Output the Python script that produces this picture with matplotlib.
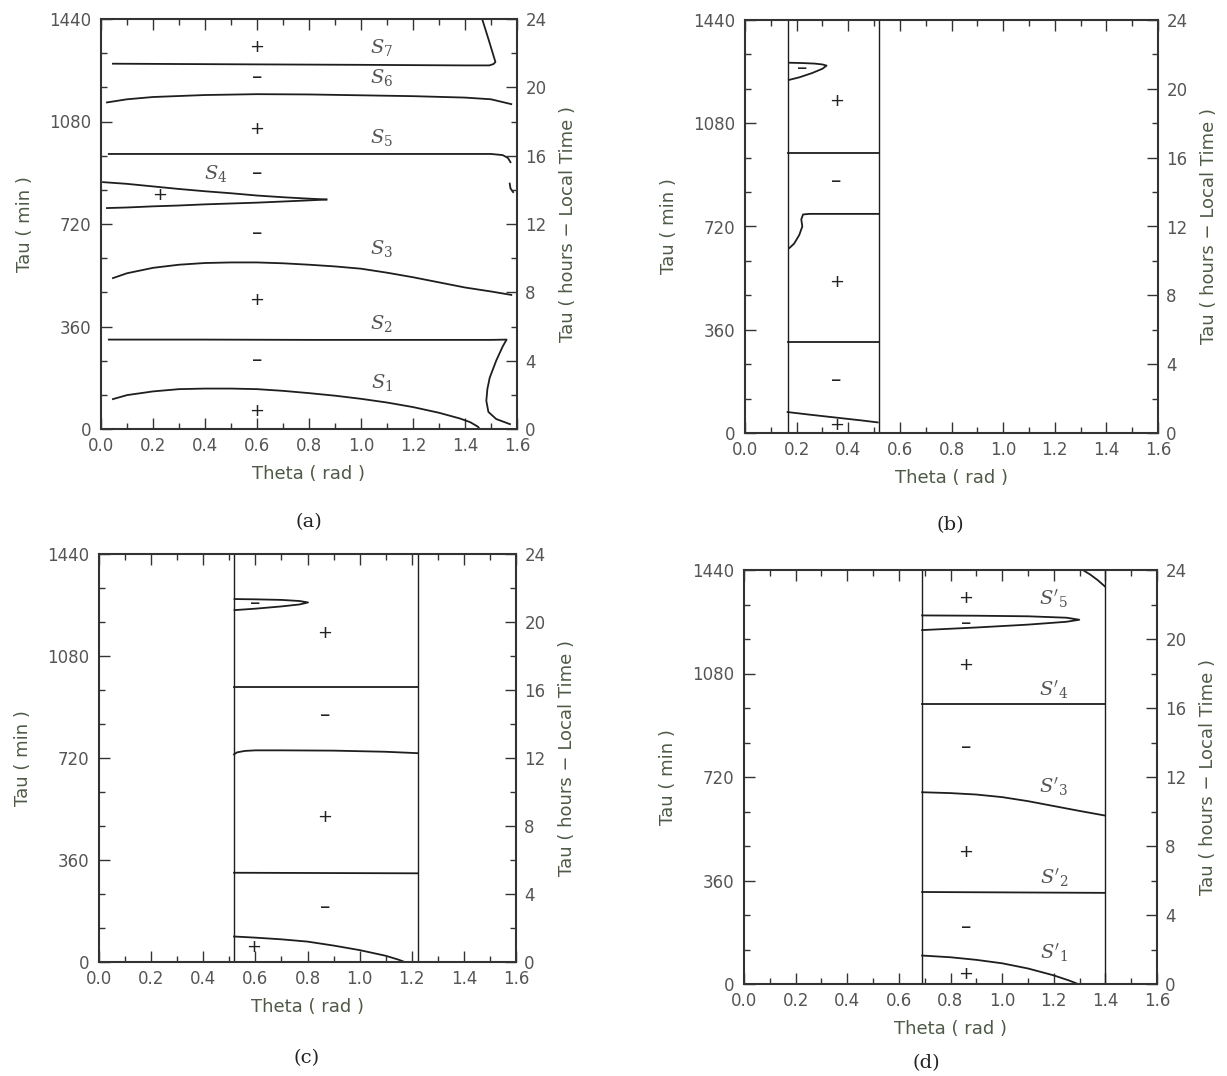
import numpy as np
import matplotlib
matplotlib.use("Agg")
import matplotlib.pyplot as plt
from matplotlib.ticker import MultipleLocator

plt.rcParams["mathtext.fontset"] = "dejavuserif"

TXT = "#4e5a46"
LN = "#1e1e1e"
W, H = 1227, 1076

# ── panel (a) curves (theta rad, tau min) ─────────────────────────
a_s1_x = [0.046, 0.1, 0.2, 0.3, 0.4, 0.5, 0.6, 0.7, 0.8, 0.9, 1.0, 1.1, 1.2, 1.3, 1.38, 1.42, 1.45, 1.456]
a_s1_y = [105, 119, 132, 140, 142, 142, 140, 134, 126, 117, 106, 93, 77, 57, 37, 24, 8, 0]
a_s2_x = [0.03, 0.4, 0.8, 1.2, 1.5, 1.56, 1.545, 1.52, 1.495, 1.486, 1.482, 1.49, 1.52, 1.573]
a_s2_y = [314, 314, 313, 313, 313, 314, 290, 240, 180, 140, 99, 60, 35, 17]
a_s3_x = [0.046, 0.1, 0.2, 0.3, 0.4, 0.5, 0.6, 0.7, 0.8, 0.9, 1.0, 1.1, 1.2, 1.3, 1.4, 1.5, 1.578]
a_s3_y = [530, 547, 566, 577, 583, 585, 585, 582, 577, 571, 563, 549, 533, 515, 497, 483, 471]
a_s4u_x = [0.008, 0.1, 0.2, 0.3, 0.4, 0.5, 0.6, 0.7, 0.8, 0.867]
a_s4u_y = [867, 861, 852, 843, 835, 828, 820, 814, 809, 806]
a_s4l_x = [0.023, 0.1, 0.2, 0.3, 0.4, 0.5, 0.6, 0.7, 0.8, 0.867]
a_s4l_y = [776, 778, 782, 785, 789, 792, 795, 799, 803, 806]
a_s5_x = [0.03, 0.5, 1.0, 1.5, 1.545, 1.565, 1.575]
a_s5_y = [966, 966, 966, 966, 962, 952, 937]
a_s5b_x = [1.572, 1.575, 1.585]
a_s5b_y = [862, 845, 832]
a_s6_x = [0.023, 0.1, 0.2, 0.4, 0.6, 0.8, 1.0, 1.2, 1.4, 1.5, 1.578]
a_s6_y = [1147, 1158, 1166, 1173, 1176, 1175, 1172, 1169, 1164, 1158, 1141]
a_s7_x = [0.046, 0.5, 1.0, 1.4, 1.494, 1.51, 1.517, 1.49, 1.466]
a_s7_y = [1283, 1281, 1279, 1277, 1277, 1282, 1289, 1370, 1440]

a_sign_x = [0.6, 0.6, 0.6, 0.6, 0.225, 0.6, 0.6, 0.6, 0.6]
a_sign_y = [1341, 1237, 1054, 899, 821, 690, 454, 244, 62]
a_sign = ["+", "–", "+", "–", "+", "–", "+", "–", "+"]
a_name_x = [1.08, 1.08, 1.08, 0.44, 1.08, 1.08, 1.08]
a_name_y = [1339, 1234, 1024, 896, 634, 372, 163]
a_name = ["$S_7$", "$S_6$", "$S_5$", "$S_4$", "$S_3$", "$S_2$", "$S_1$"]

# ── panel (b) ─────────────────────────────────────────────────────
b_vlines = [0.165, 0.518]
b_c1_x = [0.165, 0.25, 0.35, 0.45, 0.514]
b_c1_y = [73, 64, 54, 44, 37]
b_c2_x = [0.165, 0.518]
b_c2_y = [319, 319]
b_c3_x = [0.172, 0.19, 0.21, 0.222, 0.218, 0.225, 0.25, 0.35, 0.518]
b_c3_y = [645, 660, 690, 720, 745, 762, 764, 764, 764]
b_c4_x = [0.165, 0.518]
b_c4_y = [976, 976]
b_w_x = [0.17, 0.22, 0.27, 0.3, 0.316, 0.3, 0.26, 0.21, 0.17]
b_w_y = [1291, 1290, 1288, 1285, 1281, 1270, 1255, 1240, 1231]
b_sign_x = [0.222, 0.354, 0.354, 0.354, 0.354, 0.354]
b_sign_y = [1272, 1159, 879, 525, 186, 29]
b_sign = ["–", "+", "–", "+", "–", "+"]

# ── panel (c) ─────────────────────────────────────────────────────
c_vlines = [0.518, 1.224]
c_c1_x = [0.518, 0.6, 0.7, 0.8, 0.9, 1.0, 1.1, 1.15, 1.173]
c_c1_y = [90, 86, 80, 72, 58, 42, 22, 8, 0]
c_c2_x = [0.518, 1.224]
c_c2_y = [315, 313]
c_c3_x = [0.518, 0.53, 0.56, 0.6, 0.7, 0.9, 1.1, 1.224]
c_c3_y = [733, 740, 745, 747, 747, 746, 742, 737]
c_c4_x = [0.518, 1.224]
c_c4_y = [972, 972]
c_w_x = [0.52, 0.6, 0.7, 0.77, 0.802, 0.77, 0.7, 0.6, 0.52]
c_w_y = [1281, 1280, 1278, 1274, 1269, 1262, 1255, 1247, 1242]
c_sign_x = [0.6, 0.867, 0.867, 0.867, 0.867, 0.595]
c_sign_y = [1267, 1161, 873, 510, 195, 52]
c_sign = ["–", "+", "–", "+", "–", "+"]

# ── panel (d) ─────────────────────────────────────────────────────
d_vlines = [0.69, 1.398]
d_c1_x = [0.69, 0.8, 0.9, 1.0, 1.1, 1.2, 1.26, 1.294]
d_c1_y = [99, 93, 84, 72, 54, 30, 12, 0]
d_c2_x = [0.69, 1.398]
d_c2_y = [320, 317]
d_c3_x = [0.69, 0.8, 0.9, 1.0, 1.1, 1.2, 1.3, 1.398]
d_c3_y = [667, 664, 659, 650, 636, 619, 602, 586]
d_c4_x = [0.69, 1.398]
d_c4_y = [974, 974]
d_w_x = [0.69, 0.9, 1.1, 1.25, 1.299, 1.25, 1.1, 0.9, 0.69]
d_w_y = [1282, 1281, 1279, 1274, 1267, 1260, 1250, 1240, 1231]
d_top_x = [1.316, 1.34, 1.37, 1.398]
d_top_y = [1438, 1425, 1405, 1383]
d_sign_x = [0.86, 0.86, 0.86, 0.86, 0.86, 0.86, 0.86]
d_sign_y = [1344, 1255, 1108, 825, 460, 197, 36]
d_sign = ["+", "–", "+", "–", "+", "–", "+"]
d_name_x = [1.2, 1.2, 1.2, 1.2, 1.2]
d_name_y = [1338, 1022, 687, 370, 108]
d_name = ["$S'_5$", "$S'_4$", "$S'_3$", "$S'_2$", "$S'_1$"]


def setup(ax):
    ax.set_xlim(0, 1.6)
    ax.set_ylim(0, 1440)
    ax.xaxis.set_minor_locator(MultipleLocator(0.1))
    ax.yaxis.set_major_locator(MultipleLocator(360))
    ax.yaxis.set_minor_locator(MultipleLocator(120))
    ax.set_xticks(np.arange(0, 1.61, 0.2))
    ax.set_xticklabels([f"{v:.1f}" for v in np.arange(0, 1.61, 0.2)])
    ax.tick_params(which="both", direction="in", top=True, right=False,
                   colors="#333333", labelcolor="#555555", labelsize=12, width=1)
    ax.tick_params(axis="y", pad=7)
    ax.tick_params(axis="x", pad=6)
    ax.tick_params(which="major", length=8)
    ax.tick_params(which="minor", length=4.5)
    for s in ax.spines.values():
        s.set_linewidth(1.5)
        s.set_color("#333333")
    ax.set_xlabel("Theta ( rad )", fontsize=13, color=TXT, labelpad=7)
    ax.set_ylabel("Tau ( min )", fontsize=13, color=TXT, labelpad=11)
    r = ax.twinx()
    r.set_ylim(0, 24)
    r.yaxis.set_major_locator(MultipleLocator(4))
    r.yaxis.set_minor_locator(MultipleLocator(2))
    r.tick_params(which="both", direction="in", colors="#333333",
                  labelcolor="#555555", labelsize=12, width=1, pad=6)
    r.tick_params(which="major", length=8)
    r.tick_params(which="minor", length=4.5)
    r.set_ylabel("Tau ( hours − Local Time )", fontsize=13, color=TXT, labelpad=9)
    for s in r.spines.values():
        s.set_visible(False)


def signs(ax, xs, ys, ss):
    for x, y, s in zip(xs, ys, ss):
        fs = 13 if s == "+" else 15
        ax.text(x, y, s, ha="center", va="center", fontsize=fs, color="#222222")


def names(ax, xs, ys, ss):
    for x, y, s in zip(xs, ys, ss):
        ax.text(x, y, s, ha="center", va="center", fontsize=14, color="#555555")


def box(l, r, t, b):
    return [l / W, 1 - b / H, (r - l) / W, (b - t) / H]


fig = plt.figure(figsize=(W / 100, H / 100), dpi=100)
ax_a = fig.add_axes(box(101, 517, 19, 429))
ax_b = fig.add_axes(box(745, 1158, 20, 433))
ax_c = fig.add_axes(box(99, 516, 554, 962))
ax_d = fig.add_axes(box(744, 1157, 570, 984))

for ax in (ax_a, ax_b, ax_c, ax_d):
    setup(ax)

kw = dict(color=LN, linewidth=1.3)

# (a)
for xs, ys in [(a_s1_x, a_s1_y), (a_s2_x, a_s2_y), (a_s3_x, a_s3_y),
               (a_s4u_x, a_s4u_y), (a_s4l_x, a_s4l_y), (a_s5_x, a_s5_y),
               (a_s5b_x, a_s5b_y), (a_s6_x, a_s6_y), (a_s7_x, a_s7_y)]:
    ax_a.plot(xs, ys, **kw)
signs(ax_a, a_sign_x, a_sign_y, a_sign)
names(ax_a, a_name_x, a_name_y, a_name)

# (b)
for v in b_vlines:
    ax_b.axvline(v, color=LN, linewidth=1.0)
for xs, ys in [(b_c1_x, b_c1_y), (b_c2_x, b_c2_y), (b_c3_x, b_c3_y),
               (b_c4_x, b_c4_y), (b_w_x, b_w_y)]:
    ax_b.plot(xs, ys, **kw)
signs(ax_b, b_sign_x, b_sign_y, b_sign)

# (c)
for v in c_vlines:
    ax_c.axvline(v, color=LN, linewidth=1.0)
for xs, ys in [(c_c1_x, c_c1_y), (c_c2_x, c_c2_y), (c_c3_x, c_c3_y),
               (c_c4_x, c_c4_y), (c_w_x, c_w_y)]:
    ax_c.plot(xs, ys, **kw)
signs(ax_c, c_sign_x, c_sign_y, c_sign)

# (d)
for v in d_vlines:
    ax_d.axvline(v, color=LN, linewidth=1.0)
for xs, ys in [(d_c1_x, d_c1_y), (d_c2_x, d_c2_y), (d_c3_x, d_c3_y),
               (d_c4_x, d_c4_y), (d_w_x, d_w_y), (d_top_x, d_top_y)]:
    ax_d.plot(xs, ys, **kw)
signs(ax_d, d_sign_x, d_sign_y, d_sign)
names(ax_d, d_name_x, d_name_y, d_name)

# captions
for x, y, s in [(309, 522, "(a)"), (950, 525, "(b)"), (307, 1058, "(c)"), (926, 1063, "(d)")]:
    fig.text(x / W, 1 - y / H, s, ha="center", va="center",
             fontsize=14, family="serif", color="#222222")

fig.savefig("out.png", dpi=100)
